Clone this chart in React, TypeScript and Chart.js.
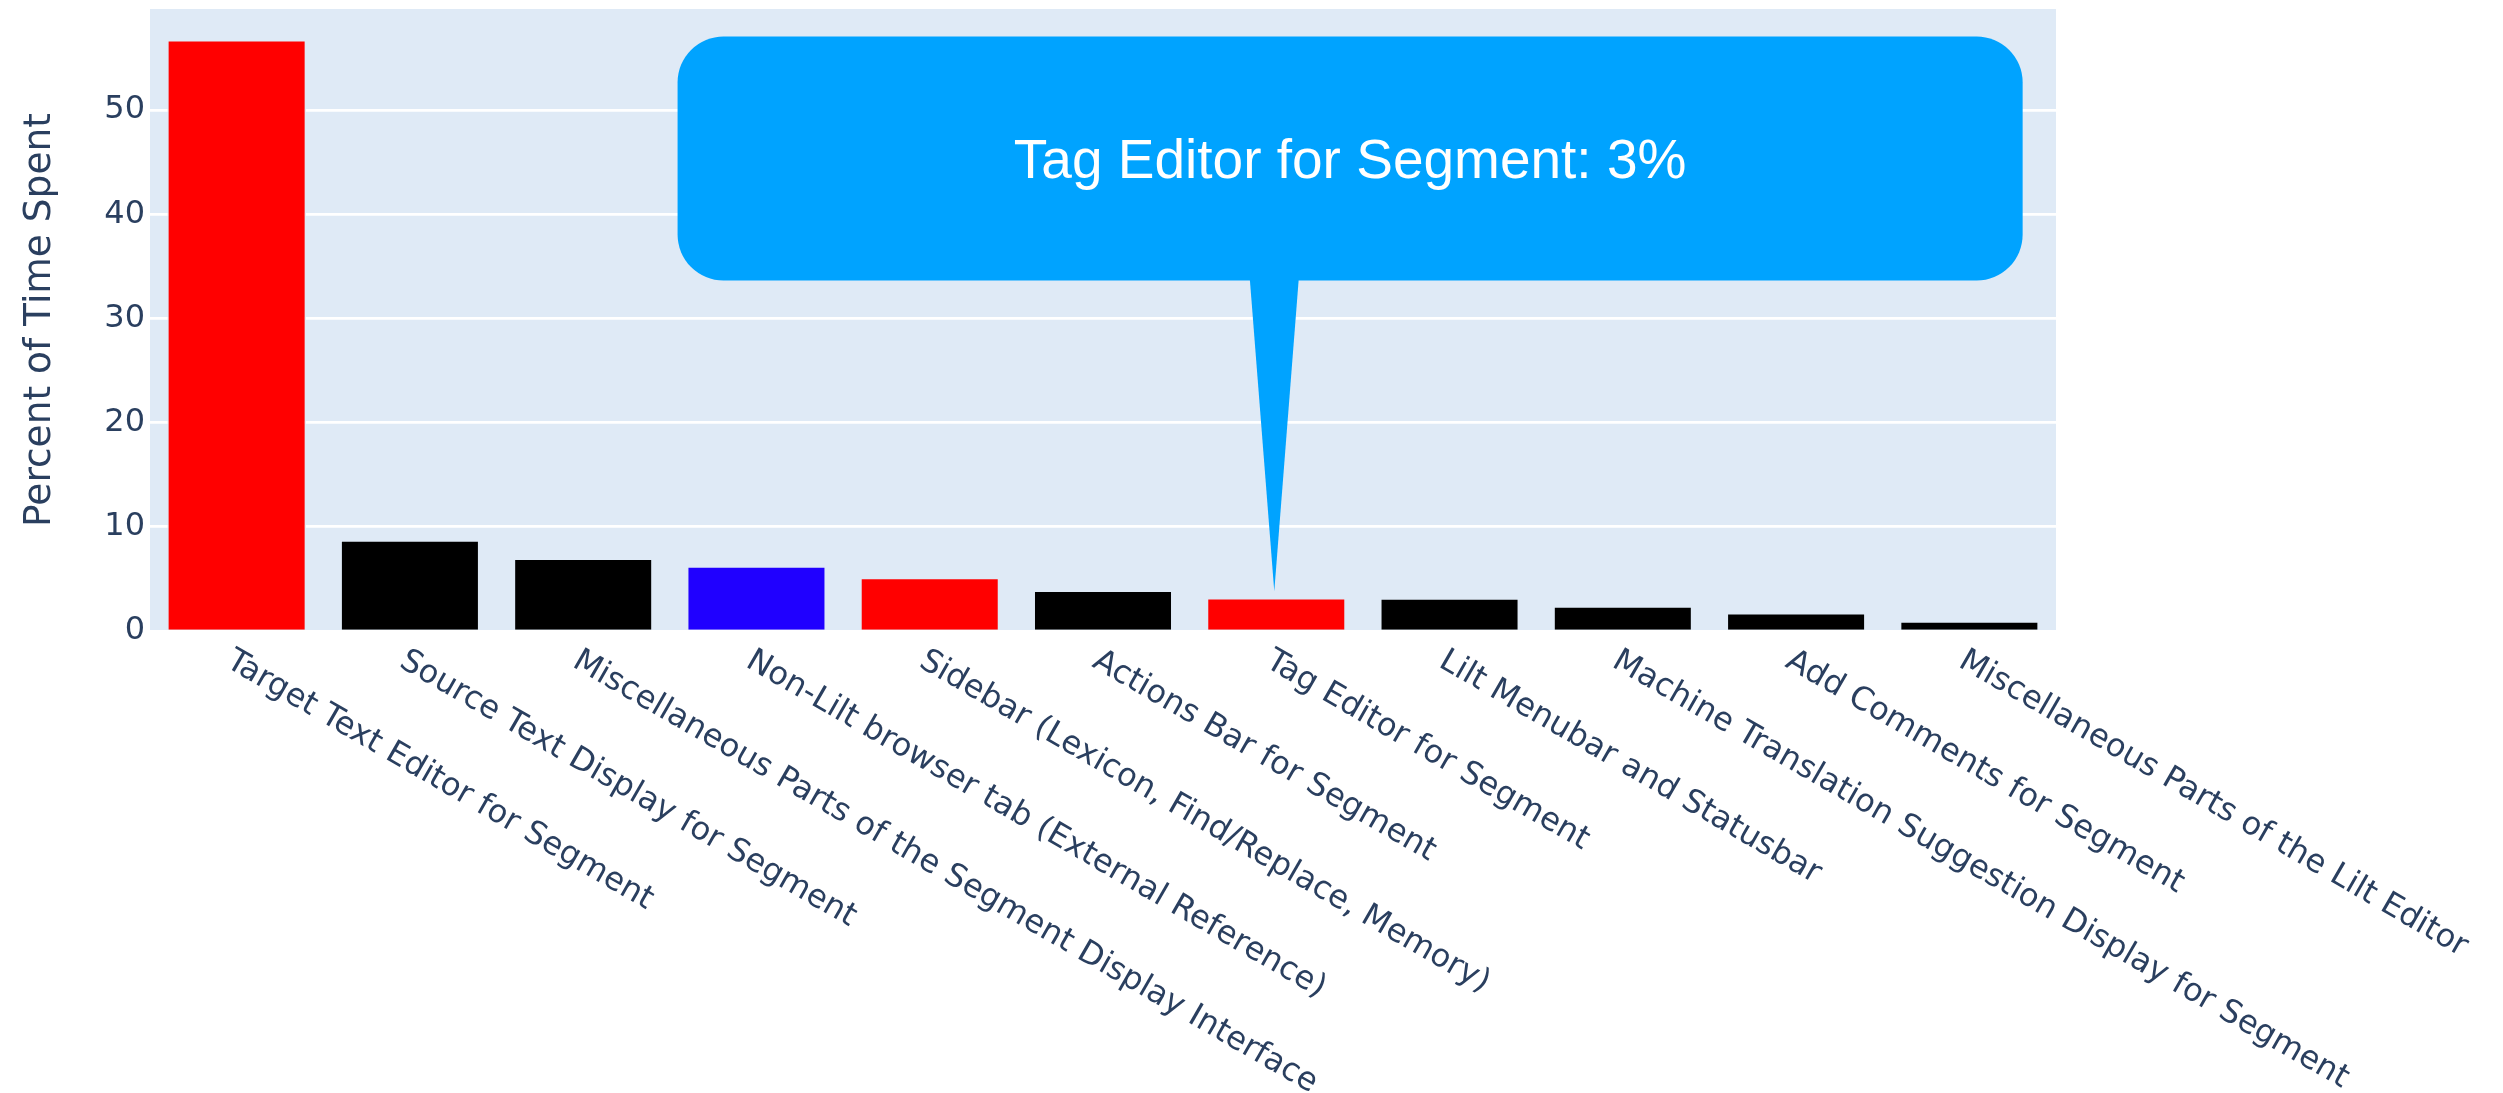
import { useEffect, useRef } from "react";
import { Chart, registerables } from "chart.js";

Chart.register(...registerables);

// Share of editing time per interface area
const categories = [
  "Target Text Editor for Segment",
  "Source Text Display for Segment",
  "Miscellaneous Parts of the Segment Display Interface",
  "Non-Lilt browser tab (External Reference)",
  "Sidebar (Lexicon, Find/Replace, Memory)",
  "Actions Bar for Segment",
  "Tag Editor for Segment",
  "Lilt Menubar and Statusbar",
  "Machine Translation Suggestion Display for Segment",
  "Add Comments for Segment",
  "Miscellaneous Parts of the Lilt Editor",
];

const timeShares = [56.7, 8.7, 6.95, 6.2, 5.1, 3.88, 3.15, 3.12, 2.36, 1.7, 0.92];

const barColors = [
  "#ff0000",
  "#000000",
  "#000000",
  "#2000ff",
  "#ff0000",
  "#000000",
  "#ff0000",
  "#000000",
  "#000000",
  "#000000",
  "#000000",
];

const yTickValues = [0, 10, 20, 30, 40, 50];
const yAxisMax = 59.7;
const yAxisTitle = "Percent of Time Spent";

// Category called out by the speech bubble
const calloutIndex = 6;

const PLOT_BG = "#DFEAF6";
const TEXT_COLOR = "#2a3f5f";
const CALLOUT_COLOR = "#00A3FF";
const AXIS_FONT = '"DejaVu Sans", Verdana, sans-serif';

// Bubble placement as fractions of the plot area
const bubbleBox = { left: 0.2768, right: 0.9825, top: 0.0441, bottom: 0.4366 };

const decorPlugin = {
  id: "decor",
  beforeDraw(chart: any) {
    const { ctx, chartArea } = chart;
    ctx.save();
    ctx.fillStyle = PLOT_BG;
    ctx.fillRect(
      chartArea.left,
      chartArea.top,
      chartArea.right - chartArea.left,
      chartArea.bottom - chartArea.top
    );
    ctx.restore();
  },
  afterDraw(chart: any) {
    const { ctx, chartArea } = chart;
    const xScale = chart.scales.x;
    const yScale = chart.scales.y;

    // y-axis title
    ctx.save();
    ctx.fillStyle = TEXT_COLOR;
    ctx.font = `37.5px ${AXIS_FONT}`;
    ctx.textAlign = "center";
    ctx.textBaseline = "alphabetic";
    ctx.translate(50, (chartArea.top + chartArea.bottom) / 2);
    ctx.rotate(-Math.PI / 2);
    ctx.fillText(yAxisTitle, 0, 0);
    ctx.restore();

    // slanted category labels
    categories.forEach((label, i) => {
      const px = xScale.getPixelForValue(i);
      ctx.save();
      ctx.fillStyle = TEXT_COLOR;
      ctx.font = `32px ${AXIS_FONT}`;
      ctx.textAlign = "left";
      ctx.textBaseline = "alphabetic";
      ctx.translate(px - 12, chartArea.bottom + 35);
      ctx.rotate(Math.PI / 6);
      ctx.fillText(label, 0, 0);
      ctx.restore();
    });

    // speech bubble pointing at the highlighted bar
    const w = chartArea.right - chartArea.left;
    const h = chartArea.bottom - chartArea.top;
    const bx0 = chartArea.left + bubbleBox.left * w;
    const bx1 = chartArea.left + bubbleBox.right * w;
    const by0 = chartArea.top + bubbleBox.top * h;
    const by1 = chartArea.top + bubbleBox.bottom * h;
    const tipX = xScale.getPixelForValue(calloutIndex) - 2;
    const tipY = yScale.getPixelForValue(timeShares[calloutIndex]) - 7;

    ctx.save();
    ctx.fillStyle = CALLOUT_COLOR;
    ctx.beginPath();
    ctx.roundRect(bx0, by0, bx1 - bx0, by1 - by0, 46);
    ctx.fill();
    ctx.beginPath();
    ctx.moveTo(tipX - 24.5, by1 - 2);
    ctx.lineTo(tipX + 24.5, by1 - 2);
    ctx.lineTo(tipX, tipY);
    ctx.closePath();
    ctx.fill();

    ctx.fillStyle = "#ffffff";
    ctx.font = '55px "Liberation Sans", Arial, sans-serif';
    ctx.textAlign = "center";
    ctx.textBaseline = "alphabetic";
    const share = Math.round(timeShares[calloutIndex]);
    ctx.fillText(
      `${categories[calloutIndex]}: ${share}%`,
      (bx0 + bx1) / 2,
      (by0 + by1) / 2 + 19.5
    );
    ctx.restore();
  },
};

export default function App() {
  const canvasRef = useRef<HTMLCanvasElement | null>(null);

  useEffect(() => {
    if (!canvasRef.current) return;
    const chart = new Chart(canvasRef.current, {
      type: "bar",
      data: {
        labels: categories,
        datasets: [
          {
            data: timeShares,
            backgroundColor: barColors,
            borderColor: PLOT_BG,
            borderWidth: 1.3,
            categoryPercentage: 0.8,
            barPercentage: 1.0,
          },
        ],
      },
      options: {
        responsive: false,
        devicePixelRatio: 1,
        animation: false,
        layout: { padding: { top: 9, right: 447, bottom: 0, left: 0 } },
        plugins: {
          legend: { display: false },
          tooltip: { enabled: false },
          title: { display: false },
        },
        scales: {
          x: {
            grid: { display: false, drawTicks: false },
            border: { display: false },
            ticks: { display: false },
            afterFit(scale: any) {
              scale.height = 462;
              scale.paddingLeft = 0;
              scale.paddingRight = 0;
            },
          },
          y: {
            min: 0,
            max: yAxisMax,
            grid: { color: "#ffffff", lineWidth: 2.7, drawTicks: false },
            border: { display: false },
            ticks: {
              stepSize: 10,
              includeBounds: false,
              padding: 5,
              color: TEXT_COLOR,
              font: { family: AXIS_FONT, size: 32 },
            },
            afterBuildTicks(scale: any) {
              scale.ticks = yTickValues.map((v) => ({ value: v }));
            },
            afterFit(scale: any) {
              scale.width = 150;
              scale.paddingTop = 0;
              scale.paddingBottom = 0;
            },
          },
        },
      },
      plugins: [decorPlugin],
    });
    return () => chart.destroy();
  }, []);

  return (
    <div
      style={{
        position: "fixed",
        left: 0,
        top: 0,
        width: "2503px",
        height: "1093px",
        background: "#ffffff",
      }}
    >
      <canvas ref={canvasRef} width={2503} height={1093} />
    </div>
  );
}
